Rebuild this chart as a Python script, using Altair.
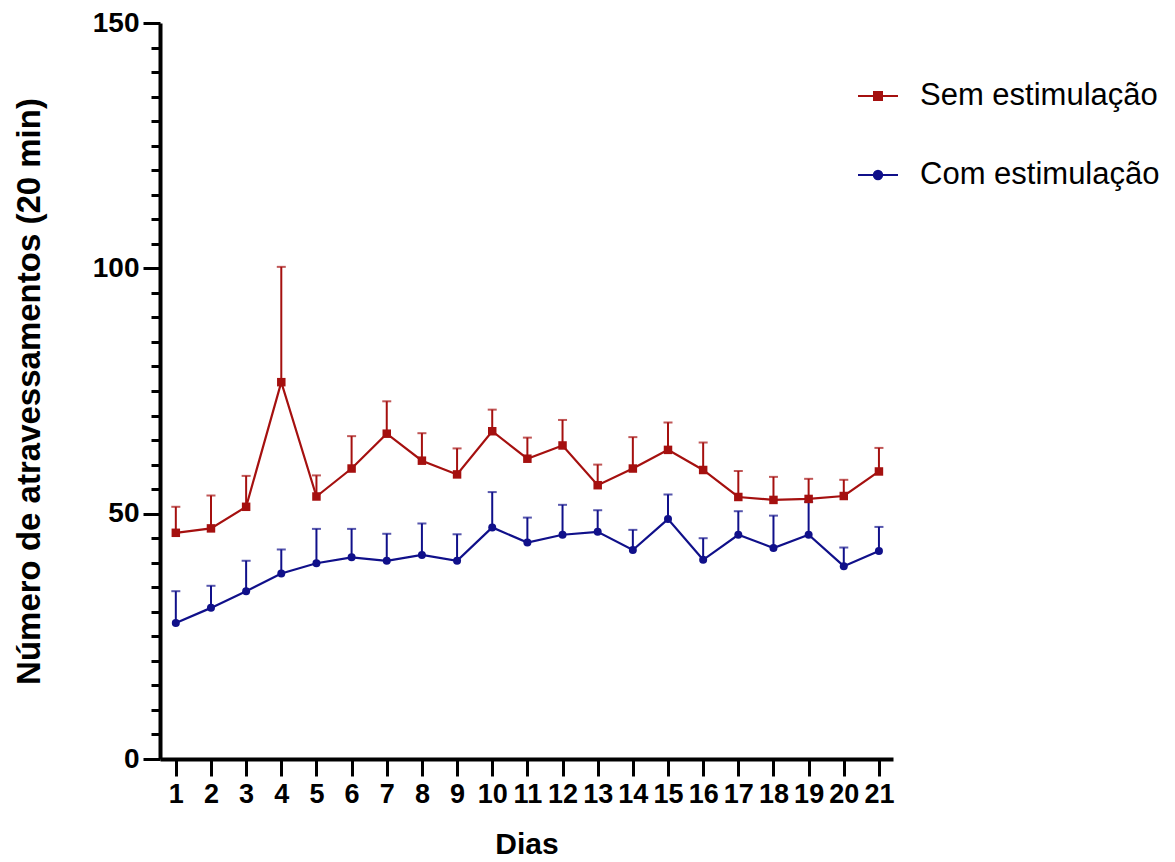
import altair as alt
import pandas as pd

dias = list(range(1, 22))
grupos = ["Sem estimulação", "Com estimulação"]
cores = ["#A5100F", "#10108A"]

sem_media = [46.1, 47.0, 51.4, 76.8, 53.5, 59.2, 66.3, 60.8, 58.0, 66.8, 61.2,
             63.9, 55.8, 59.2, 63.0, 58.9, 53.4, 52.8, 53.0, 53.6, 58.6]
sem_erro = [5.3, 6.7, 6.3, 23.5, 4.3, 6.6, 6.6, 5.6, 5.3, 4.4, 4.3,
            5.2, 4.2, 6.4, 5.6, 5.6, 5.3, 4.7, 4.1, 3.3, 4.8]
com_media = [27.7, 30.8, 34.2, 37.8, 39.9, 41.1, 40.4, 41.6, 40.4, 47.2, 44.1,
             45.7, 46.3, 42.6, 48.9, 40.6, 45.7, 43.0, 45.7, 39.3, 42.4]
com_erro = [6.5, 4.5, 6.2, 4.9, 7.0, 5.8, 5.5, 6.4, 5.4, 7.2, 5.1,
            6.1, 4.4, 4.1, 5.0, 4.4, 4.8, 6.6, 6.7, 3.8, 4.9]

rows = []
for g, med, err in [(grupos[0], sem_media, sem_erro), (grupos[1], com_media, com_erro)]:
    for d, m, e in zip(dias, med, err):
        rows.append({"dia": d, "grupo": g, "media": m, "sup": round(m + e, 2)})
df = pd.DataFrame(rows)

FONT = "Liberation Sans"
SQ = "M-1,0L1,0M-0.2,-0.2L0.2,-0.2L0.2,0.2L-0.2,0.2Z"
CI = ("M-1,0L1,0M-0.21,0C-0.21,-0.116,-0.116,-0.21,0,-0.21C0.116,-0.21,0.21,-0.116,0.21,0"
      "C0.21,0.116,0.116,0.21,0,0.21C-0.116,0.21,-0.21,0.116,-0.21,0Z")

x_axis = alt.Axis(
    values=dias, title="Dias", labelFont=FONT, labelFontSize=27, labelFontWeight="bold",
    labelColor="black", tickSize=17, tickWidth=3, tickColor="black",
    domainWidth=4, domainColor="black", labelPadding=5, titleFont=FONT,
    titleFontSize=30, titleFontWeight="bold", titleColor="black", titlePadding=22,
    grid=False, labelFlush=False, labelOverlap=False,
)
y_axis = alt.Axis(
    values=list(range(0, 151, 5)), title="Número de atravessamentos (20 min)",
    labelExpr="datum.value % 50 === 0 ? datum.label : ''",
    tickSize={"condition": {"test": "datum.value % 50 === 0", "value": 17}, "value": 9},
    labelFont=FONT, labelFontSize=28, labelFontWeight="bold", labelColor="black",
    tickWidth=3, tickColor="black", domainWidth=4, domainColor="black",
    labelPadding=4, titleFont=FONT, titleFontSize=33, titleFontWeight="bold",
    titleColor="black", titlePadding=46, grid=False, labelOverlap=False,
)

xs = alt.Scale(domain=[0.55, 21.4], nice=False, zero=False)
ys = alt.Scale(domain=[0, 150], nice=False)

legend = alt.Legend(
    title=None, orient="none", legendX=697, legendY=52, direction="vertical",
    labelFont=FONT, labelFontSize=31, labelColor="black", labelLimit=0, symbolSize=1600,
    symbolStrokeWidth=2, rowPadding=43, labelOffset=21, padding=0, symbolOpacity=1,
)

X = alt.X("dia:Q", scale=xs, axis=x_axis)
Y = alt.Y("media:Q", scale=ys, axis=y_axis)
C = alt.Color("grupo:N", scale=alt.Scale(domain=grupos, range=cores), legend=legend)
base = alt.Chart(df)

rules = base.mark_rule(strokeWidth=2).encode(x=X, y=Y, y2="sup:Q", color=C)
caps = base.mark_tick(orient="horizontal", size=9, thickness=2).encode(
    x=X, y=alt.Y("sup:Q", scale=ys, axis=y_axis), color=C)
lines = base.mark_line(strokeWidth=2.2).encode(x=X, y=Y, color=C)
pts_sem = base.transform_filter(alt.datum.grupo == grupos[0]).mark_point(
    filled=True, size=72, opacity=1, shape="square").encode(x=X, y=Y, color=C)
pts_com = base.transform_filter(alt.datum.grupo == grupos[1]).mark_point(
    filled=True, size=64, opacity=1, shape="circle").encode(x=X, y=Y, color=C)

leg = base.mark_point(opacity=0, strokeWidth=2).encode(
    x=X, y=Y,
    fill=alt.Fill("grupo:N", scale=alt.Scale(domain=grupos, range=cores), legend=legend),
    stroke=alt.Stroke("grupo:N", scale=alt.Scale(domain=grupos, range=cores), legend=legend),
    shape=alt.Shape("grupo:N", scale=alt.Scale(domain=grupos, range=[SQ, CI]), legend=legend),
)

chart = alt.layer(rules, caps, lines, pts_sem, pts_com, leg).properties(
    width=733, height=736, background="white",
    padding={"left": 5, "top": 1, "right": 0, "bottom": 0},
).configure_view(stroke=None)

chart.save("out.html", embed_options={"renderer": "svg", "actions": False})
